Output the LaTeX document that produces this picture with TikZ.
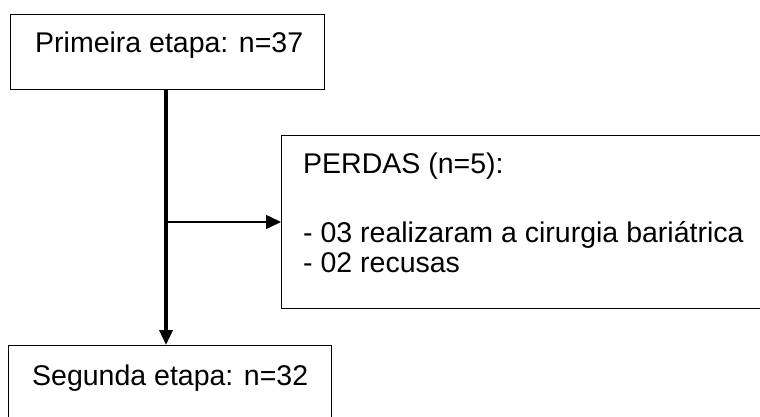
\documentclass[tikz,border=0pt]{standalone}
\usepackage{fontspec}
\setmainfont{Liberation Sans}
\usetikzlibrary{arrows.meta}
\begin{document}
\begin{tikzpicture}[x=1pt,y=-1pt,
  box/.style={draw, line width=1.3pt, inner sep=0pt, anchor=north west},
  txt/.style={anchor=base west, inner sep=0pt, font=\fontsize{28.5}{30}\selectfont}]
\useasboundingbox (0,0) rectangle (760,417);
\clip (0,0) rectangle (760,417);
\fill[white] (0,0) rectangle (760,417);
\node[box, minimum width=314pt, minimum height=75pt] (b1) at (10,14) {};
\node[box, minimum width=500pt, minimum height=173pt] (b3) at (281,135) {};
\node[box, minimum width=323pt, minimum height=100pt] (b2) at (8,345) {};
\node[txt] (t1) at (35,53) {Primeira etapa: n=37};
\node[txt] (t3a) at (303,173) {PERDAS (n=5):};
\node[txt] (t3b) at (303,242) {- 03 realizaram a cirurgia bariátrica};
\node[txt] (t3c) at (303,272) {- 02 recusas};
\node[txt] (t2) at (32,385) {Segunda etapa: n=32};
\coordinate (v) at (166,222);
\draw[line width=3.5pt, -{Triangle[length=15pt,width=13pt]}] (b1.south -| v) -- (b2.north -| v);
\draw[line width=1.5pt, -{Triangle[length=15pt,width=14pt]}] (v) -- (b3.west |- v);
\end{tikzpicture}
\end{document}
